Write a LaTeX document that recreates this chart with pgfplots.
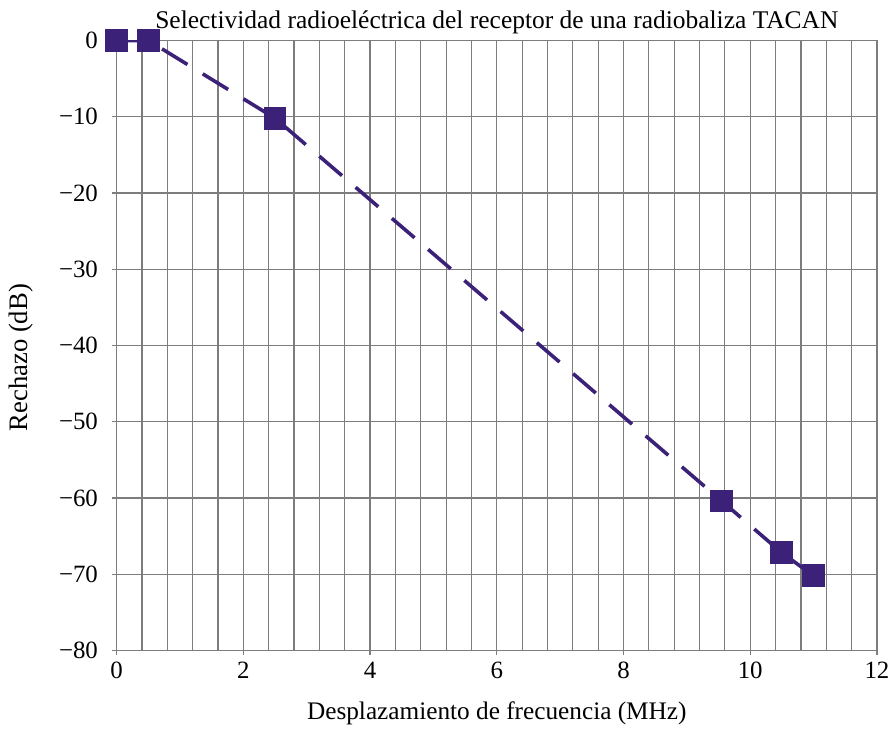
\documentclass[border=0pt]{standalone}
\usepackage{fontspec}
\setmainfont{Liberation Serif}
\usepackage{pgfplots}
\pgfplotsset{compat=1.18}
\definecolor{mk}{RGB}{59,34,120}
\definecolor{gr}{RGB}{125,125,125}
\begin{document}
\begin{tikzpicture}
\begin{axis}[
  width=382.2pt, height=306.65pt, scale only axis,
  xmin=0, xmax=12, ymin=-80, ymax=0,
  xtick={0,2,4,6,8,10,12},
  xticklabels={0,2,4,6,8,10,12},
  ytick={-80,-70,-60,-50,-40,-30,-20,-10,0},
  yticklabels={−80,−70,−60,−50,−40,−30,−20,−10,0},
  minor x tick num=4,
  xmajorgrids, xminorgrids, ymajorgrids,
  grid style={gr, line width=0.6pt},
  minor grid style={gr, line width=0.6pt},
  axis line style={gr, line width=0.6pt},
  major tick style={gr, line width=0.6pt},
  minor tick length=0pt,
  major tick length=2.5pt,
  tick align=outside,
  xtick pos=left, ytick pos=left,
  tick label style={font=\fontsize{12.5}{15}\selectfont},
  yticklabel style={xshift=-3.4pt},
  /pgf/number format/assume math mode=true,
  every axis title shift=0pt,
  title={Selectividad radioeléctrica del receptor de una radiobaliza TACAN},
  title style={at={(axis description cs:0.5,1.0191)}, anchor=base, yshift=0pt, font=\fontsize{12.8}{15}\selectfont},
  xlabel={Desplazamiento de frecuencia (MHz)},
  xlabel style={at={(axis description cs:0.5,-0.113)}, anchor=base, font=\fontsize{12.7}{15}\selectfont},
  ylabel={Rechazo (dB)},
  ylabel style={at={(axis description cs:-0.126,0.48)}, anchor=center, font=\fontsize{13.4}{16}\selectfont},
]
\addplot[mk, line width=1.8pt, dash pattern=on 15pt off 9pt,
  mark=square*, mark size=5.5pt, mark options={solid, fill=mk, draw=mk, line width=0pt}]
  coordinates {(0,0) (0.5,0) (2.5,-10.2) (9.55,-60.4) (10.5,-67.2) (11,-70.2)};
\coordinate (ll) at (rel axis cs:0,0);
\coordinate (ur) at (rel axis cs:1,1);
\end{axis}
\path ([shift={(-58.65pt,-38.5pt)}]ll) ([shift={(7.15pt,20.35pt)}]ur);
\end{tikzpicture}
\end{document}
